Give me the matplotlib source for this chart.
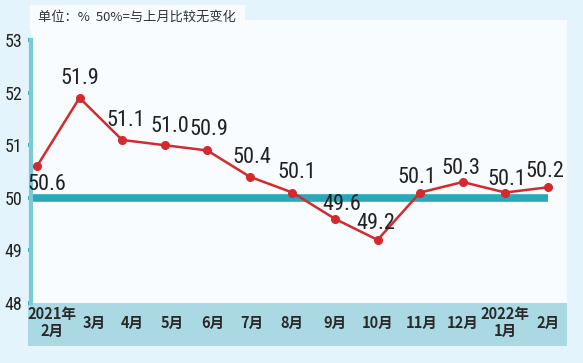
import matplotlib
matplotlib.use("Agg")
import matplotlib.pyplot as plt
from matplotlib import font_manager
from matplotlib.patches import Rectangle
from matplotlib.transforms import ScaledTranslation

plt.rcParams["font.family"] = ["Noto Sans CJK SC", "DejaVu Sans"]

months = ["2021年\n2月", "3月", "4月", "5月", "6月", "7月", "8月",
          "9月", "10月", "11月", "12月", "2022年\n1月", "2月"]
pmi = [50.6, 51.9, 51.1, 51.0, 50.9, 50.4, 50.1, 49.6, 49.2, 50.1, 50.3, 50.1, 50.2]
y_ticks = [48, 49, 50, 51, 52, 53]
baseline = 50
note = "单位：%  50%=与上月比较无变化"

# label offsets in pixels (dx, dy) relative to each point
label_offsets = [(10, -18), (0, 19), (4, 19), (5, 19), (2, 21), (2, 19), (4, 20),
                 (7, 14), (-2, 16), (-3, 15), (-2, 14), (2, 13), (-3, 16)]
# horizontal nudge of month labels, pixels
month_shift = [15, 15, 10, 8, 6, 2, 0, 0, 0, 2, 0, 0, 0]

# narrow numeric font if one is installed
installed = {f.name for f in font_manager.fontManager.ttflist}
narrow = next((n for n in ["Liberation Sans Narrow", "DejaVu Sans Condensed",
                           "Roboto Condensed", "Liberation Sans"] if n in installed),
              "DejaVu Sans")
is_narrow = narrow != "Liberation Sans"
label_font = [narrow, "DejaVu Sans"]
label_size = 16 if is_narrow else 13.5

fig = plt.figure(figsize=(5.83, 3.63), dpi=100)
fig.patch.set_facecolor("#e3f4fc")
W, H = 583, 363

ax = fig.add_axes([31 / W, 1 - 303 / H, (567 - 31) / W, (303 - 20) / H])
ax.set_facecolor("#f8fcff")
x = list(range(len(months)))

# bottom band and note box
fig.patches.append(Rectangle((28 / W, 1 - 346 / H), (567 - 28) / W, 43 / H,
                             transform=fig.transFigure, facecolor="#aad9e4",
                             edgecolor="none", zorder=-1))
fig.patches.append(Rectangle((30 / W, 1 - 30 / H), (245 - 30) / W, 25 / H,
                             transform=fig.transFigure, facecolor="#f8fcff",
                             edgecolor="none", zorder=-1))
fig.text(38 / W, 1 - 17 / H, note, fontsize=9.5, color="#333333", va="center")

ax.plot([-0.14, x[-1]], [baseline, baseline], color="#2ba7ba", lw=5.5,
        solid_capstyle="butt", zorder=2)
ax.plot(x, pmi, color="#d42a2e", lw=1.8, marker="o", markersize=5.5, zorder=3)

for xi, v, (dx, dy) in zip(x, pmi, label_offsets):
    ax.annotate(f"{v:.1f}", (xi, v), xytext=(dx * 0.72, dy * 0.72),
                textcoords="offset points", ha="center", va="center",
                fontsize=label_size, color="#222222", family=label_font, zorder=4)

ax.set_xlim(-0.14, 12.45)
ax.set_ylim(48, 53.38)
ax.set_yticks(y_ticks)
ax.set_yticklabels([str(t) for t in y_ticks], family=label_font,
                   fontsize=13 if is_narrow else 12, color="#222222")
ax.tick_params(axis="y", length=2, width=3, color="#3aaebf", pad=4)

ax.set_xticks(x)
ax.set_xticklabels(months, fontsize=10.5, fontweight="bold", color="#2a2a2a",
                   va="center", linespacing=1.0)
ax.tick_params(axis="x", length=0, pad=14)
for lab, dx in zip(ax.get_xticklabels(), month_shift):
    lab.set_transform(lab.get_transform() + ScaledTranslation(dx / 100, 0, fig.dpi_scale_trans))

for side in ["top", "right", "bottom"]:
    ax.spines[side].set_visible(False)
ax.spines["left"].set_color("#7ccad6")
ax.spines["left"].set_linewidth(3)
ax.spines["left"].set_bounds(48, 53)

fig.savefig("out.png", dpi=100, facecolor=fig.get_facecolor())
